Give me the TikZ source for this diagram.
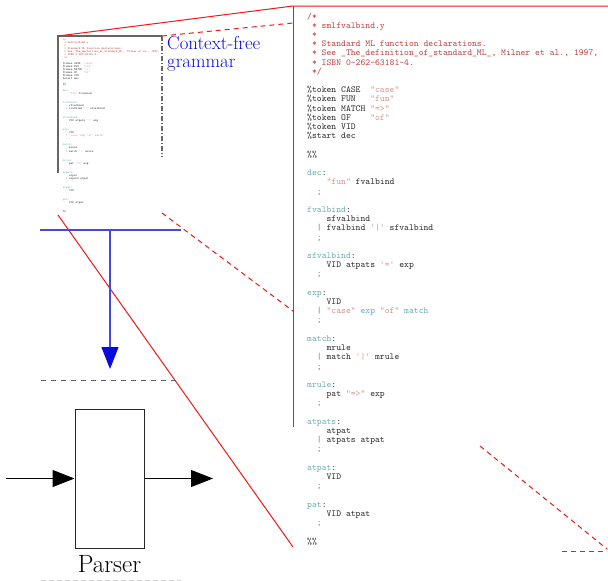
\documentclass[tikz,border=0pt]{standalone}
\usepackage{fontspec}
\usetikzlibrary{arrows.meta}

\definecolor{cmtred}{RGB}{195,70,70}
\definecolor{strpink}{RGB}{215,150,150}
\definecolor{ntteal}{RGB}{110,175,175}
\definecolor{codegray}{RGB}{50,50,50}
\definecolor{zoomred}{RGB}{250,20,20}
\definecolor{gramblue}{RGB}{10,10,220}

\newcommand\cmt[1]{\textcolor{cmtred}{#1}}
\newcommand\str[1]{\textcolor{strpink}{#1}}
\newcommand\nt[1]{\textcolor{ntteal}{#1}}
\newcommand\alt{\textcolor{gray}{|}}
\newcommand\gap{\mbox{}}
\newcommand\grammartext{%
\cmt{/*}\\
\cmt{~*~smlfvalbind.y}\\
\cmt{~*}\\
\cmt{~*~Standard ML function declarations.}\\
\cmt{~*~See \_The\_definition\_of\_standard\_ML\_, Milner et al., 1997,}\\
\cmt{~*~ISBN 0-262-63181-4.}\\
\cmt{~*/}\\
\gap\\
\%token CASE~~\str{"case"}\\
\%token FUN~~~\str{"fun"}\\
\%token MATCH~\str{"=>"}\\
\%token OF~~~~\str{"of"}\\
\%token VID\\
\%start dec\\
\gap\\
\%\%\\
\gap\\
\nt{dec}:\\
~~~~\str{"fun"} fvalbind\\
~~\textcolor{gray}{;}\\
\gap\\
\nt{fvalbind}:\\
~~~~sfvalbind\\
~~\alt{} fvalbind \str{'|'} sfvalbind\\
~~\textcolor{gray}{;}\\
\gap\\
\nt{sfvalbind}:\\
~~~~VID atpats \str{'='} exp\\
~~\textcolor{gray}{;}\\
\gap\\
\nt{exp}:\\
~~~~VID\\
~~\alt{} \str{"case"} \nt{exp} \str{"of"} \nt{match}\\
~~\textcolor{gray}{;}\\
\gap\\
\nt{match}:\\
~~~~mrule\\
~~\alt{} match \str{'|'} mrule\\
~~\textcolor{gray}{;}\\
\gap\\
\nt{mrule}:\\
~~~~pat \str{"=>"} exp\\
~~\textcolor{gray}{;}\\
\gap\\
\nt{atpats}:\\
~~~~atpat\\
~~\alt{} atpats atpat\\
~~\textcolor{gray}{;}\\
\gap\\
\nt{atpat}:\\
~~~~VID\\
~~\textcolor{gray}{;}\\
\gap\\
\nt{pat}:\\
~~~~VID atpat\\
~~\textcolor{gray}{;}\\
\gap\\
\%\%}

\tikzset{
  code/.style={anchor=base west, align=left, inner sep=0pt, text=codegray,
    font=\fontsize{9.24}{9.21}\selectfont\ttfamily\frenchspacing},
  thumbcode/.style={code, font=\fontsize{3.03}{3.02}\selectfont\ttfamily\frenchspacing},
  zoomline/.style={zoomred, line width=1pt},
  zoomhidden/.style={zoomline, dash pattern=on 5pt off 4pt},
}

\begin{document}
\begin{tikzpicture}[x=1pt,y=-1pt,>={Triangle[length=22pt,width=17pt]}]
   \useasboundingbox (0,0) rectangle (608,581);

   % 縮小版と拡大版 (基準は最終行)
   \node[thumbcode] (thumb) at (62.6,212.4) {\grammartext};
   \node[code] (zoom) at (307,544) {\grammartext};
   \draw[gray!80!black, line width=1.8pt] (58,173) -- (58,36) -- (162,36);
   \draw[gray!80!black, line width=1.5pt, dash pattern=on 5pt off 2pt on 1pt off 2pt]
     (162,36) -- (162,157);

   % 拡大の枠
   \coordinate (stl) at (58,36);
   \coordinate (str) at (162,36);
   \coordinate (sbl) at (58,215);
   \coordinate (sbr) at (162,213);
   \coordinate (btl) at (293,6);
   \coordinate (btr) at (608,6);
   \coordinate (bbl) at (293,547);
   \draw[zoomline] (stl) -- (btl) -- (btr);
   \draw[zoomline] (btl) -- (293,427);
   \draw[zoomline] (sbl) -- (bbl);
   \draw[zoomhidden] (str) -- (293,23);
   \draw[zoomhidden] (sbr) -- (293,311);
   \draw[zoomhidden] (480,446) -- (607,549);
   \draw[zoomhidden] (562,551) -- (607,551);

   \node[anchor=base west, align=left, inner sep=0pt, text=gramblue,
     font=\fontsize{18.8}{18}\selectfont] (cfg) at (167,67) {Context-free\\grammar};

   % 文法から構文解析器へ
   \coordinate (tl) at (40,230);
   \coordinate (tr) at (181,230);
   \coordinate (tm) at (110,230);
   \coordinate (ta) at (110,369);
   \draw[gramblue!75!white, line width=1.3pt] (tl) -- (tr);
   \draw[-{Triangle[length=22pt,width=17pt,color=gramblue]}, gramblue!75!white,
     line width=1.3pt] (tm) -- (ta);
   \draw[gray!75!black, dash pattern=on 5pt off 5pt] (41,380) -- (181,380);

   \node[draw=black!85, line width=1pt, minimum width=69pt, minimum height=139pt,
     inner sep=0pt] (parser) at (109.5,478.5) {};
   \node[anchor=base, font=\fontsize{25}{27}\selectfont] (plabel) at (109.5,572) {Parser};
   \coordinate (in) at (6,478.5);
   \coordinate (out) at (213,478.5);
   \draw[->, line width=1pt] (in) -- (parser.west);
   \draw[->, line width=1pt] (parser.east) -- (out);
   \draw[gray!35, dash pattern=on 5pt off 3pt] (41,580) -- (181,580);
\end{tikzpicture}
\end{document}
